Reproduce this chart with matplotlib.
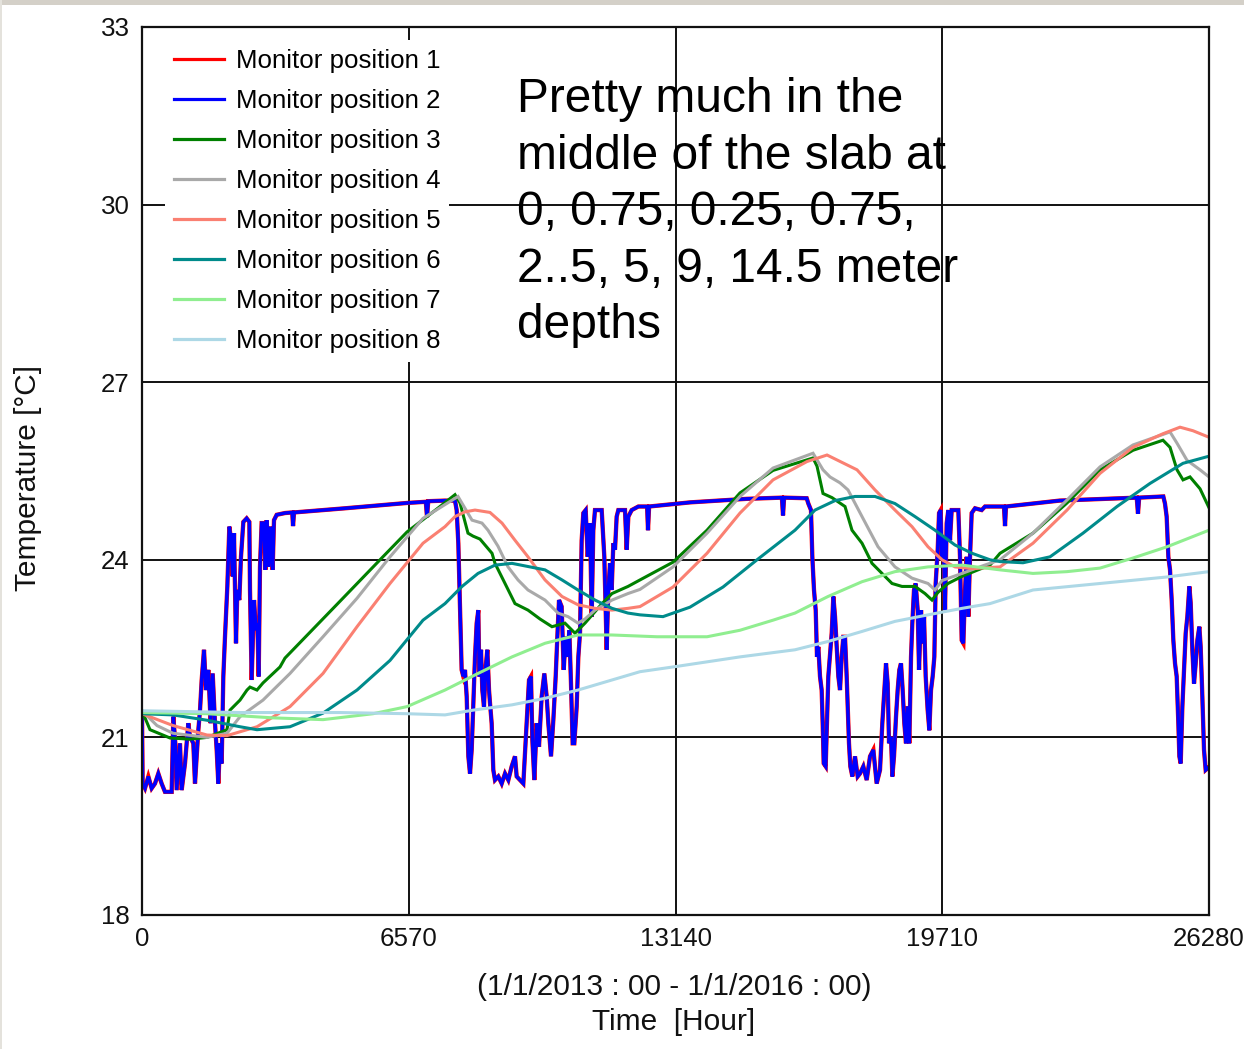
import matplotlib
matplotlib.use("Agg")
import matplotlib.pyplot as plt
from matplotlib.patches import Rectangle

plt.rcParams['font.family'] = ['Liberation Sans', 'DejaVu Sans']

# ---------------- data (hours, temperature degC) ----------------
x_ticks = [0, 6570, 13140, 19710, 26280]
y_ticks = [18, 21, 24, 27, 30, 33]
series_labels = ["Monitor position 1", "Monitor position 2", "Monitor position 3",
                 "Monitor position 4", "Monitor position 5", "Monitor position 6",
                 "Monitor position 7", "Monitor position 8"]
series_colors = ["#ff0000", "#0000ff", "#008000", "#a9a9a9",
                 "#fa8072", "#008b8b", "#90ee90", "#add8e6"]

pos2 = [(0,21.4),(16,20.22),(74,20.14),(156,20.34),(238,20.14),(320,20.22),(402,20.39),(484,20.22),
        (566,20.08),(731,20.08),(772,21.35),(821,20.9),(854,20.11),(936,20.9),(977,20.11),(1059,20.56),
        (1141,21.24),(1182,21.01),(1264,20.9),(1305,20.22),(1387,21.12),(1429,21.46),(1470,21.97),
        (1527,22.48),(1576,21.8),(1634,22.14),(1691,21.24),(1741,22.08),(1798,21.24),(1839,20.79),
        (1880,20.22),(1921,20.9),(1962,20.56),(2003,22.03),(2044,22.7),(2102,23.55),(2151,24.56),
        (2184,24.39),(2233,23.72),(2266,24.45),(2315,22.59),(2348,23.49),(2397,23.32),(2438,24.05),
        (2496,24.64),(2578,24.7),(2644,24.64),(2660,23.49),(2701,21.97),(2759,23.32),(2808,22.81),
        (2841,22.93),(2874,22.03),(2906,23.88),(2947,24.62),(3005,24.62),(3038,23.83),(3071,24.67),
        (3120,23.88),(3169,24.56),(3218,23.83),(3251,24.67),(3317,24.76),(3522,24.79),
        (3700,24.8),(3720,24.57),(3745,24.8),(5000,24.87),(6527,24.96),(6990,24.98),(7020,24.72),
        (7050,24.99),(7463,25.0),(7709,25.0),(7750,24.84),(7791,24.28),(7832,23.21),(7873,22.14),
        (7914,22.03),(7955,22.14),(7997,21.69),(8038,20.68),(8079,20.39),(8120,20.79),(8161,21.58),
        (8202,22.36),(8243,22.93),(8284,23.15),(8308,22.03),(8350,22.48),(8382,21.8),(8423,21.52),
        (8465,22.19),(8506,22.48),(8547,21.8),(8571,21.58),(8612,21.24),(8653,20.45),(8694,20.28),
        (8776,20.34),(8859,20.22),(8941,20.39),(9023,20.28),(9105,20.51),(9187,20.68),(9228,20.34),
        (9310,20.28),(9392,20.22),(9474,21.24),(9532,21.97),(9581,22.03),(9614,20.96),(9663,20.28),
        (9721,21.24),(9778,20.84),(9844,21.69),(9909,22.08),(9967,21.69),(10008,21.24),(10074,20.68),
        (10131,21.29),(10189,22.03),(10230,22.7),(10271,23.32),(10336,23.21),(10386,22.14),
        (10435,22.7),(10484,22.36),(10525,22.81),(10566,21.91),(10607,20.9),(10648,20.9),
        (10706,21.52),(10747,22.36),(10788,22.76),(10829,24.33),(10870,24.79),(10928,24.84),
        (10977,24.05),(11034,24.62),(11075,23.04),(11116,24.5),(11157,24.84),(11322,24.84),
        (11387,24.05),(11445,22.48),(11486,23.49),(11527,23.94),(11568,23.49),(11609,24.28),
        (11650,24.17),(11691,24.73),(11732,24.84),(11896,24.84),(11937,24.17),(11979,24.73),
        (12061,24.84),(12225,24.9),
        (12440,24.9),(12463,24.5),(12490,24.9),(13500,24.97),(14900,25.03),(15760,25.05),
        (15788,24.75),(15815,25.05),(16371,25.04),(16412,24.95),(16477,24.84),(16510,24.05),
        (16551,23.49),(16593,23.15),(16625,22.36),(16658,22.53),(16699,22.03),(16740,21.8),
        (16765,21.24),(16790,20.56),(16839,20.51),(16872,21.29),(16904,22.03),(16954,22.48),
        (16987,22.76),(17028,23.38),(17069,23.04),(17110,22.53),(17151,22.03),(17192,21.8),
        (17233,22.36),(17274,22.7),(17315,22.7),(17356,22.03),(17381,21.52),(17413,20.9),
        (17446,20.51),(17496,20.34),(17561,20.68),(17627,20.34),(17684,20.39),(17766,20.51),
        (17849,20.28),(17931,20.68),(18013,20.79),(18095,20.22),(18177,20.45),(18234,21.24),
        (18284,21.8),(18325,22.25),(18366,21.91),(18399,20.9),(18448,21.01),(18481,20.34),
        (18522,20.68),(18571,21.35),(18612,21.8),(18653,22.14),(18694,22.25),(18735,21.8),
        (18776,21.24),(18817,20.9),(18858,21.52),(18899,20.9),(18941,22.36),(18973,22.93),
        (19014,23.49),(19055,23.6),(19105,23.15),(19138,22.14),(19187,23.15),(19220,22.59),
        (19261,23.04),(19302,22.03),(19351,21.46),(19392,21.12),(19433,21.8),(19474,22.03),
        (19515,22.36),(19548,23.6),(19598,24.17),(19631,24.79),(19672,24.84),(19696,24.05),
        (19737,24.39),(19778,23.15),(19819,24.62),(19860,24.84),(19901,24.33),(19942,24.84),
        (20106,24.84),(20147,24.05),(20189,22.64),(20230,22.59),(20271,23.49),(20312,24.05),
        (20353,23.04),(20394,24.05),(20435,24.79),(20517,24.87),(20681,24.84),(20763,24.9),
        (21230,24.9),(21256,24.57),(21280,24.9),(22600,25.0),(24500,25.05),(24531,24.78),
        (24560,25.05),(25155,25.07),(25196,24.95),(25237,24.73),(25279,24.05),(25320,23.83),
        (25361,23.32),(25402,22.64),(25443,22.25),(25484,22.03),(25525,21.24),(25550,20.68),
        (25583,20.56),(25624,21.52),(25665,22.14),(25706,22.76),(25747,23.04),(25796,23.55),
        (25829,23.27),(25870,22.48),(25911,21.91),(25952,22.25),(25993,22.64),(26042,22.87),
        (26075,22.53),(26116,21.69),(26157,20.79),(26198,20.45),(26280,20.5)]

# position 1 reads the same as position 2 at this resolution (only red fringes visible)
pos1 = list(pos2)

pos3 = [(0,21.45),(197,21.13),(690,20.99),(1182,20.97),(1601,21.0),(2094,21.13),(2167,21.46),
        (2414,21.63),(2586,21.8),(2660,21.85),(2832,21.8),(2980,21.92),(3399,22.19),(3522,22.34),
        (4877,23.3),(5862,24.0),(6527,24.47),(7340,24.9),(7709,25.1),(7832,24.96),(8029,24.45),
        (8153,24.4),(8325,24.35),(8621,24.11),(8694,23.94),(8941,23.6),(9187,23.26),(9507,23.15),
        (9803,23.0),(10098,22.87),(10418,22.93),(10665,22.76),(10911,22.93),(11330,23.26),
        (11576,23.43),(11970,23.55),(12266,23.66),(13079,23.96),(13916,24.5),(14729,25.13),
        (15542,25.51),(16527,25.72),(16626,25.58),(16773,25.12),(16995,25.05),(17315,24.9),
        (17487,24.5),(17734,24.28),(17980,23.94),(18226,23.77),(18473,23.6),(18719,23.55),
        (19039,23.55),(19285,23.43),(19458,23.32),(19605,23.45),(19852,23.6),(20197,23.72),
        (20591,23.83),(20886,23.91),(21133,24.11),(21945,24.45),(22783,24.96),(23596,25.52),
        (24408,25.85),(25147,26.02),(25320,25.9),(25492,25.52),(25640,25.35),(25812,25.4),
        (26059,25.2),(26280,24.88)]

pos4 = [(0,21.45),(369,21.2),(764,21.07),(1601,21.0),(2094,21.07),(2414,21.35),(2980,21.63),
        (3645,22.08),(4458,22.7),(5296,23.35),(6108,24.05),(6921,24.7),(7783,25.07),(8128,24.67),
        (8374,24.62),(8522,24.5),(8768,24.23),(9015,23.88),(9261,23.66),(9507,23.49),(9926,23.32),
        (10246,23.1),(10493,23.04),(10739,22.93),(10911,23.0),(11157,23.15),(11576,23.32),
        (11970,23.43),(12266,23.5),(13079,23.88),(13916,24.45),(14729,25.07),(15542,25.55),
        (16527,25.8),(16773,25.52),(16945,25.4),(17192,25.3),(17389,25.18),(17734,24.73),
        (18128,24.22),(18546,23.88),(18965,23.69),(19359,23.6),(19532,23.49),(19704,23.65),
        (20197,23.77),(20714,23.9),(21133,24.0),(21945,24.45),(22783,25.01),(23596,25.57),
        (24408,25.94),(25320,26.16),(25492,25.97),(25739,25.68),(26059,25.52),(26280,25.4)]

pos5 = [(0,21.4),(764,21.2),(1601,21.04),(2094,21.03),(2832,21.18),(3645,21.52),(4458,22.08),
        (5296,22.87),(6108,23.6),(6921,24.28),(7463,24.56),(7709,24.73),(7955,24.81),(8202,24.84),
        (8571,24.8),(8867,24.62),(9187,24.33),(9507,24.05),(9926,23.66),(10345,23.38),(10739,23.24),
        (11157,23.18),(11576,23.15),(11970,23.18),(12266,23.21),(13079,23.54),(13916,24.11),
        (14729,24.79),(15542,25.35),(16379,25.66),(16872,25.77),(17611,25.52),(18054,25.18),
        (18546,24.84),(18965,24.56),(19359,24.22),(19704,24.0),(20024,23.88),(20443,23.85),
        (21133,23.88),(21945,24.28),(22783,24.84),(23596,25.46),(24408,25.9),(25147,26.13),
        (25566,26.24),(25886,26.18),(26280,26.07)]

pos6 = [(0,21.4),(764,21.38),(1601,21.29),(2414,21.18),(2832,21.13),(3645,21.18),(4458,21.41),
        (5296,21.8),(6108,22.3),(6921,22.98),(7463,23.26),(7882,23.55),(8276,23.77),(8694,23.91),
        (9113,23.94),(9926,23.83),(10345,23.66),(10739,23.49),(11157,23.32),(11576,23.18),
        (11970,23.1),(12266,23.07),(12832,23.04),(13497,23.2),(14310,23.54),(15148,24.0),
        (16083,24.5),(16576,24.84),(17069,25.0),(17561,25.07),(18054,25.07),(18546,24.95),
        (19039,24.73),(19532,24.5),(20024,24.25),(20443,24.11),(20886,24.0),(21133,23.97),
        (21699,23.95),(22364,24.05),(23177,24.45),(24014,24.9),(24827,25.29),(25640,25.63),
        (26280,25.75)]

pos7 = [(0,21.42),(1601,21.4),(3227,21.33),(4458,21.3),(5690,21.4),(6527,21.52),(7463,21.8),
        (8276,22.08),(9113,22.36),(9926,22.59),(10739,22.73),(11576,22.73),(12685,22.7),
        (13916,22.7),(14729,22.81),(15542,22.98),(16083,23.1),(16896,23.38),(17734,23.63),
        (18546,23.8),(19359,23.88),(20197,23.91),(21133,23.83),(21945,23.77),(22783,23.8),
        (23596,23.86),(24408,24.03),(25246,24.22),(26280,24.5)]

pos8 = [(0,21.45),(2414,21.42),(4877,21.42),(6527,21.4),(7463,21.38),(8153,21.46),(9113,21.55),
        (9926,21.66),(10739,21.8),(11576,21.97),(12266,22.11),(13079,22.19),(14729,22.36),
        (16083,22.48),(16896,22.62),(17734,22.79),(18546,22.96),(19359,23.07),(20197,23.18),
        (20886,23.26),(21945,23.49),(23596,23.6),(25246,23.71),(26280,23.8)]

all_series = [pos1, pos2, pos3, pos4, pos5, pos6, pos7, pos8]

annotation_lines = ["Pretty much in the", "middle of the slab at", "0, 0.75, 0.25, 0.75,",
                    "2..5, 5, 9, 14.5 meter", "depths"]
x_label_1 = "(1/1/2013 : 00 - 1/1/2016 : 00)"
x_label_2 = "Time  [Hour]"
y_label = "Temperature [°C]"

# ---------------- figure ----------------
W, H = 1244, 1049
fig = plt.figure(figsize=(W / 100, H / 100), dpi=100)
fig.patch.set_facecolor("white")
ax = fig.add_axes([142 / W, 1 - 915 / H, (1209 - 142) / W, (915 - 27) / H])

widths = [3.1, 2.5, 2.2, 2.2, 2.2, 2.2, 2.2, 2.2]
for data, lab, col, lw in zip(all_series, series_labels, series_colors, widths):
    xs, ys = zip(*data)
    ax.plot(xs, ys, color=col, lw=lw, label=lab, solid_joinstyle='miter')

ax.set_xlim(0, 26280)
ax.set_ylim(18, 33)
ax.set_xticks(x_ticks)
ax.set_yticks(y_ticks)
ax.set_xticklabels([str(v) for v in x_ticks])
ax.set_yticklabels([str(v) for v in y_ticks])
ax.tick_params(length=0, labelsize=18.6, colors="#111111")
ax.tick_params(axis='x', pad=9)
ax.tick_params(axis='y', pad=9)
ax.grid(True, color="#111111", lw=1.4)
ax.set_axisbelow(True)
for s in ax.spines.values():
    s.set_color("#111111")
    s.set_linewidth(1.6)

handles, labels = ax.get_legend_handles_labels()
leg = ax.legend(handles, labels, loc='upper left', bbox_to_anchor=(23 / 1067, 1 - 13 / 888),
                borderaxespad=0, frameon=True, fancybox=False, framealpha=1,
                facecolor='white', edgecolor='none', fontsize=18.6,
                handlelength=1.95, handletextpad=0.43, labelspacing=0.62, borderpad=0.35)
for lh in leg.get_lines():
    lh.set_linewidth(2.3)

# annotation
baselines = [112, 169, 225, 282, 338]
for line, b in zip(annotation_lines, baselines):
    fig.text(517 / W, 1 - b / H, line, fontsize=34.5, va='baseline', ha='left', color='black')

# axis labels
fig.text(28 / W, 1 - 478 / H, y_label, rotation=90, fontsize=21.5, ha='center', va='center',
         color="#111111")
fig.text(674 / W, 1 - 987 / H, x_label_1, fontsize=21.5, ha='center', va='center', color="#111111")
fig.text(674 / W, 1 - 1022 / H, x_label_2, fontsize=21.5, ha='center', va='center', color="#111111")

# window chrome: top band and left edge
fig.patches.append(Rectangle((0, 1 - 5 / H), 1, 5 / H, transform=fig.transFigure,
                             facecolor="#d4d0c8", edgecolor='none'))
fig.patches.append(Rectangle((0, 0), 2 / W, 1, transform=fig.transFigure,
                             facecolor="#e4e2dc", edgecolor='none'))

fig.savefig("out.png", dpi=100)
